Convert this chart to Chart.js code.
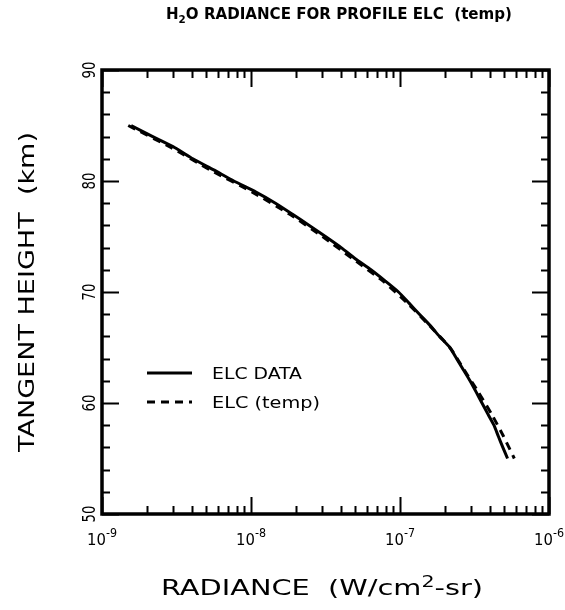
<!DOCTYPE html>
<html lang="en">
<head>
<meta charset="UTF-8" />
<title>H2O Radiance for Profile ELC</title>
<script src="https://cdn.jsdelivr.net/npm/chart.js"></script>
<style>
  html, body { margin: 0; padding: 0; background: #fff; }
  canvas { display: block; }
</style>
</head>
<body>
<canvas id="radChart" width="565" height="610"></canvas>
<script>
// tangent heights (km) and measured radiance (W/cm2-sr)
const dataHeights = [85, 84, 83, 82, 81, 80, 79, 78, 77, 76, 75, 74, 73, 72, 71, 70,
                     69, 68, 67, 66, 65, 64, 63, 62, 61, 60, 59, 58, 57, 56, 55];
const elcData = [1.57e-9, 2.19e-9, 3.09e-9, 4.07e-9, 5.62e-9, 7.67e-9, 1.08e-8, 1.46e-8,
                 1.90e-8, 2.46e-8, 3.16e-8, 4.03e-8, 5.01e-8, 6.38e-8, 7.94e-8, 9.77e-8,
                 1.15e-7, 1.35e-7, 1.59e-7, 1.84e-7, 2.16e-7, 2.40e-7, 2.66e-7, 2.95e-7,
                 3.24e-7, 3.55e-7, 3.89e-7, 4.27e-7, 4.57e-7, 4.90e-7, 5.27e-7];

// model run with the ELC temperature profile
const tempHeights = [85, 83, 81, 79, 77, 75, 73, 71, 69, 67, 65, 63, 61, 59, 57, 55];
const elcTemp = [1.50e-9, 2.92e-9, 5.31e-9, 1.02e-8, 1.82e-8, 3.02e-8, 4.81e-8, 7.67e-8,
                 1.12e-7, 1.57e-7, 2.16e-7, 2.69e-7, 3.35e-7, 4.12e-7, 4.95e-7, 5.85e-7];

const yTicks = [50, 60, 70, 80, 90];
const xDecades = [1e-9, 1e-8, 1e-7, 1e-6];
const xExponents = ['-9', '-8', '-7', '-6'];
const seriesNames = ['ELC DATA', 'ELC (temp)'];

const FONT = "'DejaVu Sans', sans-serif";

// draws a run of text pieces, squeezed/stretched horizontally to a given width
function drawRun(ctx, parts, x, y, width, align) {
  let natural = 0;
  parts.forEach(p => { ctx.font = p.font; p.w = ctx.measureText(p.t).width; natural += p.w; });
  const sx = width ? width / natural : 1;
  const total = natural * sx;
  let x0 = x;
  if (align === 'center') x0 = x - total / 2;
  ctx.save();
  ctx.translate(x0, y);
  ctx.scale(sx, 1);
  ctx.textAlign = 'left';
  ctx.textBaseline = 'alphabetic';
  let cx = 0;
  parts.forEach(p => {
    ctx.font = p.font;
    ctx.fillText(p.t, cx, p.dy || 0);
    cx += p.w;
  });
  ctx.restore();
}

const framePlugin = {
  id: 'framePlugin',
  afterDraw(chart) {
    const ctx = chart.ctx;
    const a = chart.chartArea;
    const xs = chart.scales.x, ys = chart.scales.y;
    ctx.save();
    ctx.strokeStyle = '#000';
    ctx.fillStyle = '#000';
    ctx.lineCap = 'butt';

    // frame
    ctx.lineWidth = 3.5;
    ctx.strokeRect(a.left, a.top, a.right - a.left, a.bottom - a.top);

    // inward ticks on the height axis, every 2 km, long at labelled values
    ctx.lineWidth = 2;
    for (let v = ys.min; v <= ys.max; v += 2) {
      const py = Math.round(ys.getPixelForValue(v)) + 0.5;
      const len = yTicks.includes(v) ? 17 : 8;
      ctx.beginPath();
      ctx.moveTo(a.left, py); ctx.lineTo(a.left + len, py);
      ctx.moveTo(a.right, py); ctx.lineTo(a.right - len, py);
      ctx.stroke();
    }

    // inward log ticks on the radiance axis
    xDecades.forEach(d => {
      for (let m = 1; m <= 9; m++) {
        const v = d * m;
        if (v < xs.min * 0.999 || v > xs.max * 1.001) continue;
        const px = Math.round(xs.getPixelForValue(v)) + 0.5;
        const len = m === 1 ? 17 : 8;
        ctx.beginPath();
        ctx.moveTo(px, a.bottom); ctx.lineTo(px, a.bottom - len);
        ctx.moveTo(px, a.top); ctx.lineTo(px, a.top + len);
        ctx.stroke();
      }
    });

    // height tick labels, rotated
    yTicks.forEach(v => {
      const py = ys.getPixelForValue(v);
      ctx.save();
      ctx.translate(89, py);
      ctx.rotate(-Math.PI / 2);
      drawRun(ctx, [{ t: String(v), font: '17px ' + FONT }], 0, 6, 17, 'center');
      ctx.restore();
    });

    // radiance tick labels 10^n
    xDecades.forEach((d, i) => {
      const px = xs.getPixelForValue(d);
      drawRun(ctx, [
        { t: '10', font: '16px ' + FONT },
        { t: xExponents[i], font: '12px ' + FONT, dy: -8 }
      ], px, 545, 30, 'center');
    });

    // title
    drawRun(ctx, [
      { t: 'H', font: 'bold 16px ' + FONT },
      { t: '2', font: 'bold 11px ' + FONT, dy: 4 },
      { t: 'O RADIANCE FOR PROFILE ELC  (temp)', font: 'bold 16px ' + FONT }
    ], 339, 19, 346, 'center');

    // x axis title
    drawRun(ctx, [
      { t: 'RADIANCE  (W/cm', font: '21px ' + FONT },
      { t: '2', font: '15px ' + FONT, dy: -8 },
      { t: '-sr)', font: '21px ' + FONT }
    ], 322, 595, 322, 'center');

    // y axis title
    ctx.save();
    ctx.translate(26, 292);
    ctx.rotate(-Math.PI / 2);
    drawRun(ctx, [{ t: 'TANGENT HEIGHT  (km)', font: '21px ' + FONT }], 0, 8, 320, 'center');
    ctx.restore();

    // legend
    const rows = [373, 402];
    chart.data.datasets.forEach((ds, i) => {
      const ly = rows[i];
      ctx.save();
      ctx.lineWidth = ds.borderWidth;
      ctx.setLineDash(ds.borderDash || []);
      ctx.beginPath();
      ctx.moveTo(147, ly); ctx.lineTo(192, ly);
      ctx.stroke();
      ctx.restore();
      drawRun(ctx, [{ t: seriesNames[i], font: '15px ' + FONT }], 212, ly + 6, i === 0 ? 90 : 108, 'left');
    });

    ctx.restore();
  }
};

new Chart(document.getElementById('radChart'), {
  type: 'line',
  data: {
    datasets: [
      {
        label: seriesNames[0],
        data: elcData.map((r, i) => ({ x: r, y: dataHeights[i] })),
        borderColor: '#000',
        borderWidth: 3,
        pointRadius: 0,
        tension: 0.2,
        fill: false
      },
      {
        label: seriesNames[1],
        data: elcTemp.map((r, i) => ({ x: r, y: tempHeights[i] })),
        borderColor: '#000',
        borderWidth: 3,
        borderDash: [8, 6],
        pointRadius: 0,
        tension: 0.2,
        fill: false
      }
    ]
  },
  options: {
    responsive: false,
    animation: false,
    layout: { padding: { left: 102, right: 16, top: 70, bottom: 96 } },
    plugins: {
      legend: { display: false },
      tooltip: { enabled: false },
      title: { display: false }
    },
    scales: {
      x: { type: 'logarithmic', min: 1e-9, max: 1e-6, display: false },
      y: { type: 'linear', min: 50, max: 90, display: false }
    }
  },
  plugins: [framePlugin]
});
</script>
</body>
</html>
